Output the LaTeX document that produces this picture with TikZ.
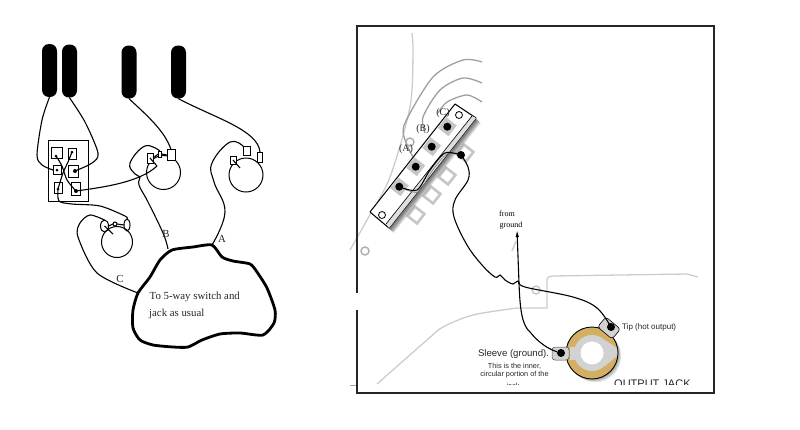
\documentclass[tikz,border=0pt]{standalone}
\usepackage{fontspec}
\setmainfont{Liberation Serif}
\setsansfont{Liberation Sans}
\usetikzlibrary{arrows.meta,shapes.geometric}
\definecolor{jackgold}{HTML}{D4AE62}
\definecolor{jackgrey}{HTML}{D2D2D2}
\tikzset{
  pickup/.style={fill=black,rounded corners=7pt,minimum width=15pt,minimum height=53pt,inner sep=0},
  lug/.style={draw=black,fill=white,line width=1pt,inner sep=0,outer sep=0},
  spot/.style={circle,fill=black,inner sep=0,minimum size=#1},
  pot/.style={draw=black,circle,line width=1pt,inner sep=0,minimum size=#1},
  wire/.style={draw=black,line width=1.1pt},
  handtext/.style={font=\fontsize{10.8}{12}\selectfont,text=black!85,inner sep=0},
  outline/.style={draw=gray!75,line width=1.3pt},
  ghost/.style={draw=gray!45,line width=2.6pt,fill=white,rotate=52,minimum size=12pt,inner sep=0},
  cell/.style={draw=gray!45,fill=gray!45,rotate=52,minimum size=13pt,inner sep=0},
  hole/.style={circle,draw=black,fill=white,line width=.8pt,minimum size=7pt,inner sep=0},
  ring/.style={circle,draw=gray!65,line width=1.4pt,minimum size=8pt,inner sep=0},
  jacktext/.style={font=\sffamily\fontsize{#1}{#1}\selectfont,inner sep=0,text=black!85},
}
\begin{document}
\begin{tikzpicture}[x=1pt,y=-1pt]
      \useasboundingbox (0,0) rectangle (800,429);
      % left: pickups
      \node[pickup] (P1) at (49.5,70.5) {};
      \node[pickup] (P2) at (69.5,71) {};
      \node[pickup] (P3) at (129,72) {};
      \node[pickup] (P4) at (178.5,72) {};
      % selector
      \node[draw=black,line width=1pt,minimum width=40pt,minimum height=61pt,inner sep=0] (SW) at (68,170.5) {};
      \node[lug,minimum width=11pt,minimum height=11pt] (S1) at (57,153) {};
      \node[lug,minimum width=8pt,minimum height=11pt] (S2) at (72,154) {};
      \node[lug,minimum width=8pt,minimum height=9pt] (S3) at (57,170) {};
      \node[lug,minimum width=10pt,minimum height=12pt] (S4) at (73.5,171) {};
      \node[lug,minimum width=8pt,minimum height=11pt] (S5) at (58,188) {};
      \node[lug,minimum width=9pt,minimum height=13pt] (S6) at (76,189) {};
      \node[spot=3pt] (D1) at (56,156) {};
      \node[spot=3pt] (D2) at (72,152) {};
      \node[spot=3pt] (D3) at (57,170) {};
      \node[spot=4pt] (D4) at (75,171) {};
      \node[spot=3pt] (D5) at (58,189) {};
      \node[spot=4pt] (D6) at (76,191) {};
      % pots
      \node[pot=34pt] (V1) at (163.5,172.5) {};
      \node[lug,minimum width=6pt,minimum height=10pt] (V1a) at (150,158) {};
      \node[lug,minimum width=3.5pt,minimum height=6pt] (V1b) at (160,154) {};
      \node[lug,minimum width=8pt,minimum height=11pt] (V1c) at (171,155) {};
      \node[pot=34pt] (V2) at (246,175) {};
      \node[lug,minimum width=6pt,minimum height=8pt] (V2a) at (233,160) {};
      \node[lug,minimum width=7pt,minimum height=9pt] (V2b) at (247,151) {};
      \node[lug,minimum width=5pt,minimum height=10pt] (V2c) at (260,157) {};
      \node[pot=31pt] (V3) at (117,242) {};
      \node[lug,ellipse,minimum width=8pt,minimum height=12pt,fill=none] (V3a) at (104.5,226) {};
      \node[lug,circle,minimum size=4pt,fill=none] (V3b) at (115,224) {};
      \node[lug,ellipse,minimum width=6pt,minimum height=12pt,fill=none] (V3c) at (127,225) {};
      \coordinate (W1) at (157,166);
      \coordinate (W2) at (240,168);
      \coordinate (W3) at (113,234);
      % blob
      \coordinate (BA) at (212,245);
      \coordinate (BB) at (168,249);
      \coordinate (BC) at (138,293);
      \draw[line width=2.8pt,line join=round] plot[smooth cycle,tension=.4] coordinates {(BC) (133,310) (133,328) (140,340) (153,345) (173,347) (188,347) (202,340) (220,334) (240,333) (263,335) (274,323) (275,310) (267,288) (257,272) (250,264) (233,261) (222,257) (BA) (193,247) (172,250) (160,260) (150,277)};
      % wires
      \draw[wire] plot[smooth] coordinates {(P1.south) (42,120) (37,155) (42,165) (S3.west)};
      \draw[wire] plot[smooth] coordinates {(P2.south) (85,122) (98,153) (92,163) (D4)};
      \draw[wire] plot[smooth] coordinates {(D2) (68,162) (63,173) (D5)};
      \draw[wire] plot[smooth] coordinates {(D1) (62,166) (67,180) (D6)};
      \draw[wire] (D6) .. controls (105,187) and (140,182) .. (W1);
      \draw[wire] (P3.south) .. controls (150,118) and (165,132) .. (V1c.north);
      \draw[wire] (P4.south) .. controls (215,118) and (258,130) .. (V2c.north);
      \draw[wire] (V1a.center) -- (W1);
      \draw[wire] (V1a.east) -- (V1b.west);
      \draw[wire] (V1b.east) -- (V1c.west);
      \draw[wire] (V2a.center) -- (W2);
      \draw[wire] (V3a.center) -- (W3);
      \draw[wire] (V3a.east) -- (V3b.west);
      \draw[wire] (V3b.east) -- (V3c.west);
      \draw[wire] plot[smooth,tension=.7] coordinates {(V1b.north) (145,146) (130,163) (135,174) (140,177) (139,185) (148,202) (163,233) (BB)};
      \draw[wire] plot[smooth,tension=.7] coordinates {(V2b.north west) (230,142) (212,163) (214,182) (225,212) (BA)};
      \draw[wire] plot[smooth] coordinates {(D5) (59,201) (72,204) (100,206) (125,216) (V3c.north)};
      \draw[wire] plot[smooth] coordinates {(V3a.north) (90,215) (80,223) (78,237) (97,273) (BC)};
      % left labels
      \node[handtext] (LB) at (166,234) {B};
      \node[handtext] (LA) at (222,239) {A};
      \node[handtext] (LC) at (120,279) {C};
      \node[handtext,anchor=base west] (T1) at (149.5,299.5) {To 5-way switch and};
      \node[handtext,anchor=base west] (T2) at (149,316) {jack as usual};
      % right: body lines
      \draw[outline,draw=gray!40] plot[smooth] coordinates {(412,33) (413,53) (410,107) (390,177) (367,220) (350,250)};
      \draw[outline] plot[smooth] coordinates {(482,62) (463,60) (433,77) (405,123) (405,140) (413,157)};
      \draw[outline] plot[smooth] coordinates {(482,83) (463,78) (440,90) (423,117) (425,133)};
      \draw[outline] plot[smooth] coordinates {(482,102) (467,95) (447,102) (438,113)};
      \draw[outline,draw=gray!40] plot[smooth] coordinates {(377,384) (427,340) (443,327) (473,315) (517,308)} -- (547,308) -- (547,283) .. controls (547,277) .. (553,276) -- (687,274) -- (698,277);
      \draw[draw=gray!70,line width=.7pt] (350,385) -- (698,385);
      \node[ring] (R1) at (410,142) {};
      \node[ring] (R2) at (365,251) {};
      \node[ring,draw=gray!45] (R3) at (536,290) {};
      % right: switch
      \node[ghost] (G1) at (465,153) {};
      \node[ghost] (G2) at (447,176) {};
      \node[ghost] (G3) at (432,195) {};
      \node[ghost] (G4) at (416,215) {};
      \foreach \d in {1,2,...,6}
        \fill[black,opacity=.13,shift={(\d*.8,\d*.8)}] (370,212) -- (455,104) -- (476,118) -- (389,228) -- cycle;
      \draw[fill=white,line width=1pt,line join=round] (370,212) -- (455,104) -- (476,118) -- (389,228) -- cycle;
      \fill[gray!25] (386,224) -- (472,116) -- (476,118) -- (389,228) -- cycle;
      \draw[line width=.6pt] (386,224) -- (472,116);
      \node[cell] (C1) at (447.3,126.7) {};
      \node[cell] (C2) at (431.7,146.7) {};
      \node[cell] (C3) at (415.7,166.7) {};
      \node[cell] (C4) at (399.3,186.7) {};
      \node[hole] (H1) at (459,115) {};
      \node[hole] (H2) at (382,215) {};
      \node[spot=8pt] (D7) at (447.3,126.7) {};
      \node[spot=8pt] (D8) at (431.7,146.7) {};
      \node[spot=8pt] (D9) at (415.7,166.7) {};
      \node[spot=8pt] (D10) at (399.3,186.7) {};
      \node[spot=8pt] (D11) at (461,155) {};
      \node[handtext,font=\fontsize{10}{10}\selectfont] (LC2) at (443,113) {(C)};
      \node[handtext,font=\fontsize{10}{10}\selectfont] (LB2) at (423,129) {(B)};
      \node[handtext,font=\fontsize{10}{10}\selectfont] (LA2) at (406,149) {(A)};
      % right: jack
      \foreach \d in {1,2,3,4}
        \fill[black,opacity=.1] (592+\d*.8,353+\d*.8) circle (26pt);
      \node[circle,draw=black,fill=jackgold,line width=.9pt,minimum size=52pt,inner sep=0] (J1) at (592,353) {};
      \node[draw=black,fill=jackgrey,line width=.6pt,rounded corners=3pt,rotate=-40,minimum width=19pt,minimum height=13pt,inner sep=0] (J4) at (609,328) {};
      \fill[jackgrey] (J1.center) circle (18pt);
      \fill[jackgrey] (570,347) rectangle (580,360);
      \fill[jackgrey] (605,340) -- (617,348) -- (617,356) -- (605,366) -- cycle;
      \node[draw=black!70,fill=jackgrey,line width=.5pt,rounded corners=3pt,minimum width=17pt,minimum height=13pt,inner sep=0] (J3) at (560.5,353.5) {};
      \node[circle,fill=white,minimum size=23pt,inner sep=0] (J2) at (592,353) {};
      \node[spot=8pt] (J5) at (611,327) {};
      \node[spot=8pt] (J6) at (561,353) {};
      % right: wires
      \draw[wire,line width=.6pt,draw=gray] plot[smooth] coordinates {(D10) (418,192) (432,171) (447,154) (D11)};
      \draw[wire] plot[smooth] coordinates {(D10) (417,190) (430,170) (445,153) (D11)};
      \draw[wire] plot[smooth,tension=.6] coordinates {(D11) (468,167) (468,180) (455,200) (454,217) (467,245) (482,265) (495,277) (500,275) (505,280) (513,284) (518,281) (525,287) (573,297) (597,308) (J5)};
      \node[inner sep=0,font=\fontsize{8}{8}\selectfont] (F1) at (507,214) {from};
      \node[inner sep=0,font=\fontsize{8}{8}\selectfont] (F2) at (511,226) {ground};
      \coordinate (F3) at (517,230);
      \draw[wire,{Latex[length=7pt,width=3.5pt]}-] (F3) -- (519,283) .. controls (520,310) and (522,325) .. (530,332) .. controls (538,342) and (548,349) .. (J6);
      \draw[gray!35,line width=1.6pt] (512,251) -- (516,241);
      % right: texts
      \node[jacktext=8,anchor=west] (X1) at (622,327) {Tip (hot output)};
      \node[jacktext=9.6] (X2) at (513.5,354) {Sleeve (ground).};
      \node[jacktext=7.3] (X3) at (514.5,366) {This is the inner,};
      \node[jacktext=7.3] (X4) at (514.5,375) {circular portion of the};
      \node[jacktext=7.3,anchor=base] (X5) at (513,388) {jack};
      \node[jacktext=11,anchor=base west] (X6) at (614,387) {OUTPUT JACK};
      \fill[white] (358,385.3) rectangle (713,392);
      \draw[draw=black!85,line width=1.5pt] (357,293) -- (357,26) -- (714,26) -- (714,393) -- (357,393) -- (357,310);
    \end{tikzpicture}
\end{document}
